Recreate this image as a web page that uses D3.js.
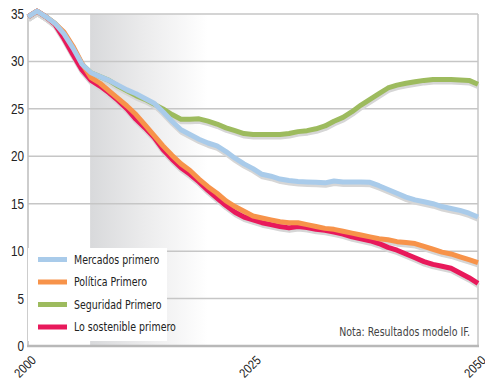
<!DOCTYPE html>
<html><head><meta charset="utf-8">
<script src="https://cdn.jsdelivr.net/npm/d3@7"></script>
<style>
body{margin:0;background:#fff;}
svg{display:block;font-family:"Liberation Sans Narrow","DejaVu Sans Condensed","Roboto Condensed",sans-serif;}
</style></head>
<body><svg id="c" width="485" height="381"></svg>
<script>
const years = d3.range(2000, 2051);
const mercados = [34.7,35.3,34.7,34.0,32.9,31.4,29.7,28.8,28.4,28.0,27.5,27.0,26.6,26.1,25.6,24.7,23.7,22.8,22.3,21.8,21.4,21.1,20.5,19.8,19.2,18.7,18.1,17.9,17.6,17.45,17.35,17.3,17.25,17.2,17.4,17.3,17.3,17.3,17.25,16.9,16.5,16.1,15.7,15.4,15.2,15.0,14.7,14.5,14.3,14.0,13.6];
const politica = [34.7,35.3,34.7,34.0,33.1,31.6,29.8,28.3,27.7,26.9,26.1,25.3,24.4,23.3,22.2,21.1,20.1,19.2,18.5,17.6,16.8,16.1,15.3,14.7,14.2,13.7,13.5,13.3,13.1,13.0,13.0,12.8,12.6,12.4,12.3,12.1,11.9,11.7,11.5,11.3,11.2,11.0,10.9,10.8,10.5,10.2,9.9,9.7,9.4,9.1,8.8];
const seguridad = [34.7,35.3,34.7,34.0,32.9,31.4,29.7,28.8,28.4,28.0,27.4,26.9,26.4,26.0,25.5,25.0,24.4,23.9,23.9,23.95,23.7,23.4,23.0,22.7,22.4,22.3,22.3,22.3,22.3,22.4,22.6,22.7,22.9,23.2,23.7,24.1,24.7,25.4,26.0,26.6,27.2,27.5,27.7,27.85,28.0,28.1,28.1,28.1,28.05,28.0,27.6];
const sostenible = [34.7,35.3,34.7,33.9,32.4,30.7,29.1,28.0,27.4,26.7,25.9,25.0,23.9,23.0,22.0,20.7,19.7,18.8,18.1,17.3,16.4,15.6,14.8,14.1,13.6,13.3,13.0,12.8,12.6,12.45,12.6,12.5,12.3,12.2,12.0,11.8,11.5,11.3,11.1,10.8,10.4,10.1,9.7,9.3,8.9,8.6,8.4,8.2,7.7,7.2,6.6];
const seriesNames = ["Mercados primero","Política Primero","Seguridad Primero","Lo sostenible primero"];
const seriesColors = ["#a9cbea","#f7934a","#9dbb5e","#e8195b"];
const yTicks = [0,5,10,15,20,25,30,35];
const xTicks = [2000,2025,2050];
const note = "Nota: Resultados modelo IF.";

const svg = d3.select("#c");
const L=28,R=478,T=14,B=346;
const SX = 0.84; // condensed look
const x = d3.scaleLinear().domain([2000,2050]).range([L,R]);
const y = d3.scaleLinear().domain([0,35]).range([B,T]);

// shaded band
const defs = svg.append("defs");
const g = defs.append("linearGradient").attr("id","shade").attr("x1","0").attr("x2","1");
g.append("stop").attr("offset","0").attr("stop-color","#d8d9db");
g.append("stop").attr("offset","0.45").attr("stop-color","#ebebec");
g.append("stop").attr("offset","1").attr("stop-color","#ffffff");
svg.append("rect").attr("x",x(2006.9)).attr("y",T).attr("width",x(2020)-x(2006.9)).attr("height",B-T).attr("fill","url(#shade)");

// grid
svg.append("g").selectAll("line").data(yTicks.filter(d=>d>0)).join("line")
  .attr("x1",L).attr("x2",R).attr("y1",d=>y(d)).attr("y2",d=>y(d))
  .attr("stroke","#c6c6c6").attr("stroke-width",1.5);
svg.append("line").attr("x1",R).attr("x2",R).attr("y1",T).attr("y2",B).attr("stroke","#c6c6c6").attr("stroke-width",1.5);
svg.append("line").attr("x1",L).attr("x2",L).attr("y1",T).attr("y2",B).attr("stroke","#bdbdbd").attr("stroke-width",1.5);
svg.append("line").attr("x1",L-1).attr("x2",R+1).attr("y1",B).attr("y2",B).attr("stroke","#b8b8b8").attr("stroke-width",2.5);

// y axis labels
const yAxis = d3.axisLeft(y).tickValues(yTicks).tickSize(0).tickPadding(0);
const ya = svg.append("g").attr("transform",`translate(${L-4},0)`).call(yAxis);
ya.select(".domain").remove();
ya.selectAll("text").attr("font-size",14).attr("fill","#222").attr("font-family","inherit")
  .attr("x",0).attr("transform",`scale(${SX},1)`);

// x axis labels
const xa = svg.append("g").attr("transform",`translate(0,${B})`)
  .call(d3.axisBottom(x).tickValues(xTicks).tickFormat(d3.format("d")).tickSize(0));
xa.select(".domain").remove();
xa.selectAll(".tick").each(function(d){
  const t = d3.select(this);
  t.select("text").attr("font-size",13).attr("fill","#222").attr("font-family","inherit")
   .attr("text-anchor","end").attr("x",0).attr("y",0).attr("dy","0.35em")
   .attr("transform",`translate(5,12) rotate(-45) scale(${SX},1)`);
});

// lines
const data = [mercados,politica,seguridad,sostenible];
const line = d3.line().x((d,i)=>x(years[i])).y(d=>y(d)).curve(d3.curveLinear);
const order = [2,3,1,0];
const sh = svg.append("g").attr("transform","translate(0.5,2.5)");
order.forEach(k=>{
  sh.append("path").attr("d",line(data[k])).attr("fill","none").attr("stroke","#d6d6d6")
    .attr("stroke-width",5).attr("stroke-linejoin","round");
});
order.forEach(k=>{
  svg.append("path").attr("d",line(data[k])).attr("fill","none").attr("stroke",seriesColors[k])
    .attr("stroke-width",5).attr("stroke-linejoin","round");
});

// legend
svg.append("rect").attr("x",L).attr("y",248).attr("width",139).attr("height",93).attr("fill","#fff");
const lg = svg.append("g");
seriesNames.forEach((n,i)=>{
  const yy = 259.5 + i*22.5;
  lg.append("line").attr("x1",38).attr("x2",67).attr("y1",yy).attr("y2",yy)
    .attr("stroke",seriesColors[i]).attr("stroke-width",5);
  lg.append("text").attr("transform",`translate(74,${yy}) scale(${SX},1)`).attr("dy","0.35em").attr("font-size",12.5)
    .attr("fill","#222").text(n);
});

svg.append("text").attr("transform",`translate(470,332) scale(${SX},1)`).attr("dy","0.35em").attr("text-anchor","end")
  .attr("font-size",12.5).attr("fill","#444").text(note);
</script></body></html>
